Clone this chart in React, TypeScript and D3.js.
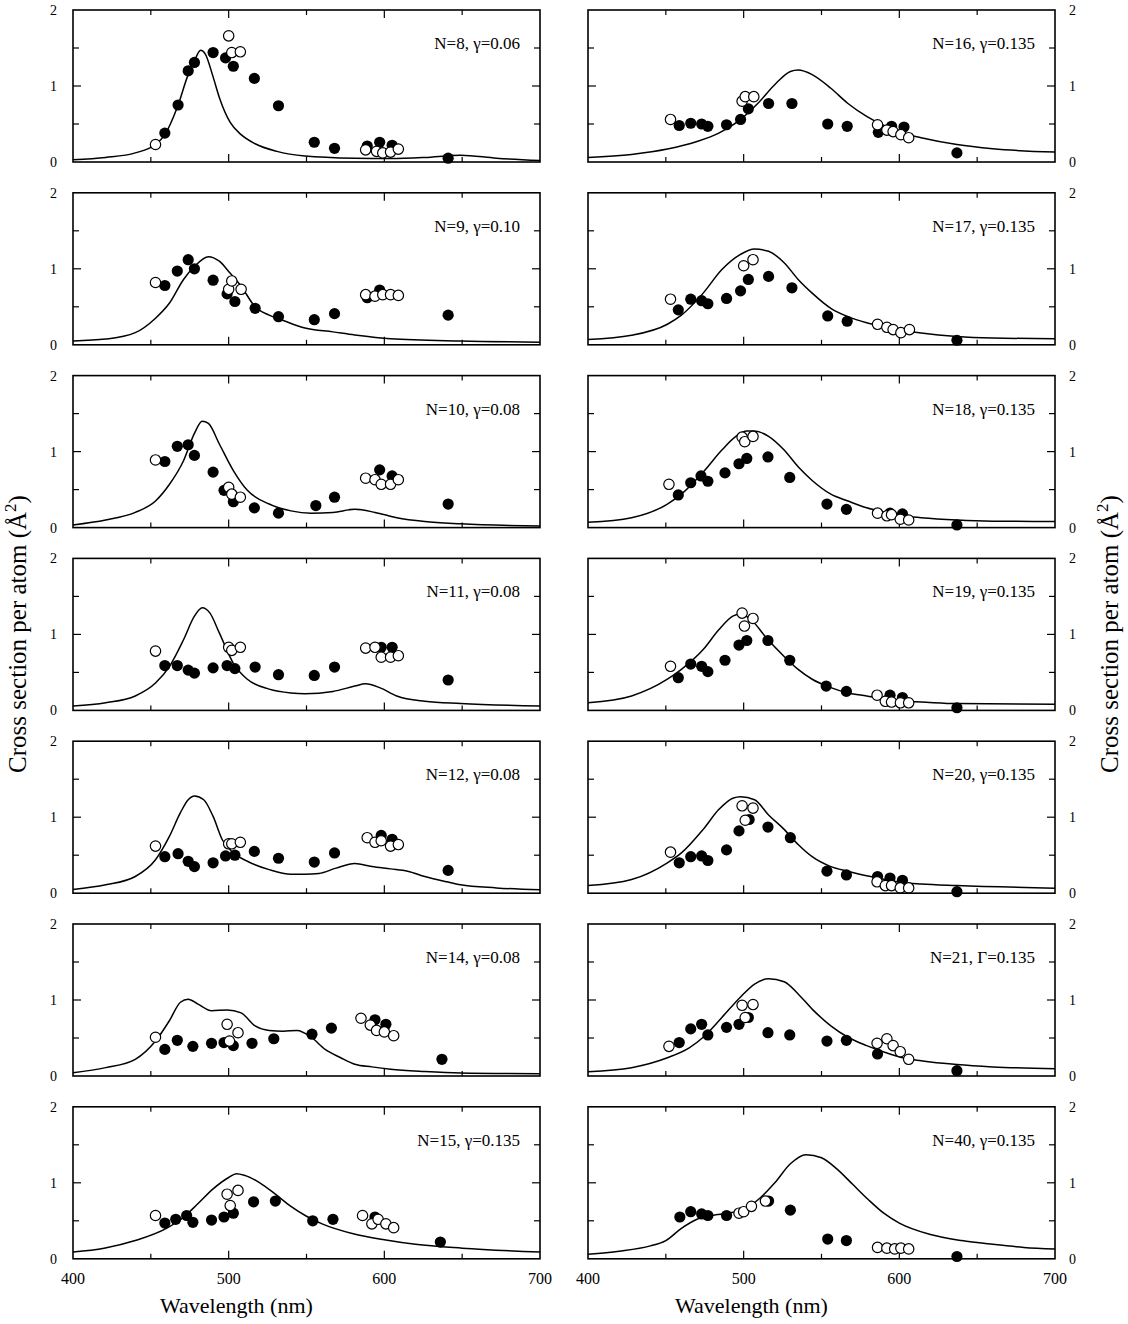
import React from 'react';
import * as d3 from 'd3';

type Pt = [number, number];

// wavelength (nm), cross section per atom (Å^2)
const n8Curve: Pt[] = [[400, 0.03], [421, 0.06], [440, 0.12], [453, 0.23], [459, 0.36], [467, 0.72], [474, 1.15], [478, 1.33], [482, 1.47], [485, 1.42], [490, 1.12], [494, 0.85], [501, 0.52], [508, 0.36], [517, 0.24], [531, 0.14], [549, 0.08], [581, 0.05], [604, 0.045], [626, 0.06], [649, 0.09], [672, 0.05], [700, 0.02]];
const n8Filled: Pt[] = [[459, 0.38], [467.5, 0.75], [474, 1.2], [478, 1.31], [490, 1.44], [498, 1.37], [503, 1.26], [516.5, 1.1], [532, 0.74], [555, 0.26], [568, 0.18], [589, 0.21], [597, 0.26], [605, 0.22], [641, 0.05]];
const n8Open: Pt[] = [[453, 0.23], [500, 1.66], [502, 1.44], [507.5, 1.45], [588, 0.16], [595, 0.14], [599, 0.12], [604, 0.13], [609, 0.17]];

const n9Curve: Pt[] = [[400, 0.05], [421, 0.075], [440, 0.16], [453, 0.35], [462, 0.55], [471, 0.86], [478, 1.03], [487, 1.16], [494, 1.1], [501, 0.94], [508, 0.77], [517, 0.5], [526, 0.39], [535, 0.32], [549, 0.22], [567, 0.17], [581, 0.13], [604, 0.08], [649, 0.05], [700, 0.035]];
const n9Filled: Pt[] = [[459, 0.78], [467, 0.97], [474, 1.12], [478, 1.0], [490, 0.85], [499, 0.67], [504, 0.57], [517, 0.48], [532, 0.37], [555, 0.33], [568, 0.41], [589, 0.62], [597, 0.72], [641, 0.39]];
const n9Open: Pt[] = [[453, 0.82], [500, 0.73], [502, 0.84], [508, 0.73], [588, 0.66], [594, 0.64], [599, 0.66], [604, 0.66], [609, 0.65]];

const n10Curve: Pt[] = [[400, 0.035], [421, 0.1], [440, 0.2], [453, 0.35], [462, 0.57], [471, 0.88], [478, 1.24], [483, 1.4], [487, 1.37], [494, 1.1], [503, 0.75], [512, 0.49], [526, 0.31], [540, 0.22], [553, 0.19], [567, 0.2], [581, 0.24], [594, 0.2], [608, 0.13], [626, 0.08], [649, 0.05], [700, 0.02]];
const n10Filled: Pt[] = [[459, 0.87], [467, 1.07], [474, 1.09], [478, 0.95], [490, 0.73], [497, 0.49], [503, 0.34], [516.5, 0.26], [532, 0.19], [556, 0.29], [568, 0.4], [597, 0.76], [605, 0.68], [641, 0.31]];
const n10Open: Pt[] = [[453, 0.89], [500, 0.53], [502, 0.44], [507.5, 0.4], [588, 0.65], [594, 0.63], [598, 0.57], [604, 0.57], [609, 0.63]];

const n11Curve: Pt[] = [[400, 0.057], [421, 0.1], [440, 0.19], [453, 0.36], [462, 0.58], [471, 0.93], [478, 1.24], [483, 1.35], [488, 1.28], [494, 1.02], [503, 0.62], [512, 0.41], [526, 0.28], [540, 0.23], [549, 0.22], [567, 0.25], [581, 0.32], [588, 0.35], [597, 0.3], [608, 0.19], [626, 0.12], [649, 0.09], [700, 0.057]];
const n11Filled: Pt[] = [[459, 0.59], [467, 0.59], [474, 0.53], [478, 0.49], [490, 0.56], [499, 0.59], [504, 0.55], [517, 0.57], [532, 0.47], [555, 0.46], [568, 0.57], [598, 0.83], [605, 0.83], [641, 0.4]];
const n11Open: Pt[] = [[453, 0.78], [500, 0.83], [502, 0.79], [507.5, 0.83], [588, 0.82], [594, 0.83], [598, 0.7], [604, 0.7], [609, 0.72]];

const n12Curve: Pt[] = [[400, 0.05], [421, 0.11], [440, 0.22], [453, 0.44], [462, 0.75], [469, 1.06], [474, 1.23], [478, 1.28], [484, 1.23], [490, 1.01], [496, 0.7], [503, 0.53], [512, 0.42], [526, 0.31], [540, 0.25], [549, 0.25], [558, 0.26], [569, 0.33], [581, 0.39], [592, 0.35], [604, 0.32], [615, 0.29], [626, 0.22], [640, 0.15], [649, 0.11], [672, 0.07], [700, 0.044]];
const n12Filled: Pt[] = [[459, 0.48], [467.5, 0.52], [474, 0.42], [478, 0.35], [490, 0.4], [498, 0.49], [504, 0.5], [516.5, 0.55], [532, 0.46], [555, 0.41], [568, 0.53], [598, 0.76], [605, 0.71], [641, 0.3]];
const n12Open: Pt[] = [[453, 0.62], [500, 0.65], [502, 0.65], [507.5, 0.67], [589, 0.73], [594, 0.67], [598, 0.69], [604, 0.62], [609, 0.64]];

const n14Curve: Pt[] = [[400, 0.044], [421, 0.11], [440, 0.22], [453, 0.46], [462, 0.73], [469, 0.97], [474, 1.01], [480, 0.95], [489, 0.86], [499, 0.87], [508, 0.83], [517, 0.66], [526, 0.6], [535, 0.59], [544, 0.6], [553, 0.51], [562, 0.35], [572, 0.24], [581, 0.155], [592, 0.12], [604, 0.09], [626, 0.06], [649, 0.04], [700, 0.03]];
const n14Filled: Pt[] = [[459, 0.35], [467, 0.47], [477, 0.39], [489, 0.43], [497, 0.44], [503, 0.4], [515, 0.43], [529, 0.49], [553.5, 0.55], [566, 0.63], [594, 0.74], [601, 0.68], [637, 0.22]];
const n14Open: Pt[] = [[453, 0.51], [499, 0.68], [500.5, 0.46], [506, 0.57], [585, 0.76], [591, 0.67], [595, 0.6], [600, 0.58], [606, 0.53]];

const n15Curve: Pt[] = [[400, 0.09], [420, 0.14], [440, 0.24], [460, 0.4], [470, 0.53], [480, 0.72], [490, 0.92], [500, 1.07], [505, 1.12], [510, 1.1], [520, 1.0], [530, 0.85], [540, 0.69], [550, 0.56], [560, 0.46], [580, 0.33], [600, 0.25], [620, 0.19], [650, 0.14], [700, 0.09]];
const n15Filled: Pt[] = [[459, 0.47], [466, 0.52], [473, 0.57], [477, 0.48], [489, 0.51], [497, 0.55], [503, 0.6], [516, 0.75], [530, 0.76], [554, 0.5], [567, 0.52], [594, 0.55], [636, 0.22]];
const n15Open: Pt[] = [[453, 0.57], [499, 0.85], [501, 0.7], [506, 0.9], [586, 0.57], [592, 0.46], [596, 0.52], [601, 0.46], [606, 0.41]];

const n16Curve: Pt[] = [[400, 0.06], [428, 0.1], [451, 0.17], [470, 0.27], [484, 0.38], [498, 0.56], [509, 0.77], [521, 1.04], [530, 1.19], [535, 1.21], [544, 1.15], [556, 0.97], [567, 0.77], [579, 0.6], [591, 0.47], [602, 0.38], [614, 0.32], [637, 0.23], [660, 0.175], [700, 0.13]];
const n16Filled: Pt[] = [[458.6, 0.48], [466, 0.51], [473, 0.5], [477, 0.47], [489, 0.49], [498, 0.56], [503, 0.7], [516, 0.77], [531, 0.77], [554, 0.5], [566.5, 0.47], [586.5, 0.39], [595, 0.47], [603, 0.46], [637, 0.12]];
const n16Open: Pt[] = [[453, 0.56], [499, 0.8], [501, 0.86], [506.5, 0.86], [586, 0.49], [592, 0.42], [596, 0.4], [601, 0.36], [606, 0.32]];

const n17Curve: Pt[] = [[400, 0.07], [428, 0.125], [451, 0.27], [460, 0.39], [474, 0.68], [486, 0.99], [498, 1.19], [507, 1.26], [516, 1.23], [526, 1.08], [535, 0.86], [544, 0.68], [556, 0.48], [567, 0.37], [579, 0.29], [591, 0.235], [602, 0.19], [614, 0.155], [637, 0.11], [660, 0.09], [700, 0.08]];
const n17Filled: Pt[] = [[458, 0.46], [466, 0.6], [473, 0.58], [477, 0.54], [489, 0.61], [498, 0.71], [503, 0.86], [516, 0.9], [531, 0.75], [554, 0.38], [566.5, 0.31], [637, 0.06]];
const n17Open: Pt[] = [[453, 0.6], [500, 1.04], [506, 1.12], [586, 0.27], [592, 0.23], [596, 0.2], [601, 0.16], [606.5, 0.2]];

const n18Curve: Pt[] = [[400, 0.07], [428, 0.13], [451, 0.31], [460, 0.44], [474, 0.73], [486, 1.02], [495, 1.2], [502, 1.27], [507, 1.27], [516, 1.2], [526, 1.02], [535, 0.8], [544, 0.62], [556, 0.44], [567, 0.35], [579, 0.26], [591, 0.2], [602, 0.155], [614, 0.13], [637, 0.1], [660, 0.085], [700, 0.08]];
const n18Filled: Pt[] = [[458, 0.43], [466, 0.59], [472.6, 0.68], [477, 0.61], [488, 0.72], [497, 0.84], [502, 0.91], [515.6, 0.93], [529.6, 0.66], [553.5, 0.31], [566, 0.24], [594, 0.19], [602, 0.18], [637, 0.035]];
const n18Open: Pt[] = [[452, 0.57], [499, 1.19], [500.7, 1.13], [506, 1.2], [586, 0.19], [592, 0.155], [595, 0.17], [600.6, 0.11], [606, 0.1]];

const n19Curve: Pt[] = [[400, 0.1], [428, 0.19], [451, 0.41], [460, 0.54], [474, 0.8], [484, 1.06], [493, 1.24], [498, 1.27], [505, 1.19], [514, 0.97], [526, 0.71], [535, 0.54], [544, 0.41], [556, 0.3], [567, 0.23], [579, 0.19], [591, 0.15], [602, 0.12], [614, 0.11], [637, 0.09], [700, 0.08]];
const n19Filled: Pt[] = [[458, 0.43], [466, 0.61], [473, 0.58], [477, 0.51], [488, 0.66], [497, 0.86], [502, 0.92], [515.6, 0.92], [529.6, 0.66], [553, 0.32], [566, 0.25], [594, 0.2], [602, 0.17], [637, 0.035]];
const n19Open: Pt[] = [[453, 0.58], [499, 1.28], [500.5, 1.11], [506, 1.21], [585.7, 0.2], [591, 0.12], [595, 0.11], [600.7, 0.1], [606, 0.1]];

const n20Curve: Pt[] = [[400, 0.1], [428, 0.18], [451, 0.4], [460, 0.53], [474, 0.84], [484, 1.1], [493, 1.25], [498, 1.27], [507, 1.23], [516, 1.03], [526, 0.84], [535, 0.64], [544, 0.48], [556, 0.35], [567, 0.29], [579, 0.23], [591, 0.18], [602, 0.14], [614, 0.12], [637, 0.1], [700, 0.066]];
const n20Filled: Pt[] = [[458.6, 0.4], [466, 0.48], [473, 0.49], [477, 0.43], [489, 0.57], [497, 0.82], [503.5, 0.97], [515.6, 0.87], [530, 0.73], [553.5, 0.29], [566, 0.24], [586, 0.22], [594, 0.2], [602, 0.17], [637, 0.02]];
const n20Open: Pt[] = [[453, 0.54], [499, 1.15], [501, 0.96], [506, 1.12], [585.7, 0.15], [591, 0.1], [595, 0.1], [600.6, 0.07], [606, 0.07]];

const n21Curve: Pt[] = [[400, 0.057], [428, 0.11], [451, 0.24], [465, 0.37], [474, 0.51], [486, 0.77], [498, 1.04], [507, 1.21], [516, 1.28], [526, 1.24], [535, 1.08], [544, 0.88], [556, 0.66], [567, 0.51], [579, 0.4], [591, 0.31], [602, 0.24], [614, 0.2], [637, 0.15], [660, 0.12], [700, 0.097]];
const n21Filled: Pt[] = [[458.6, 0.44], [466, 0.62], [473, 0.68], [477, 0.54], [489, 0.64], [497, 0.68], [503, 0.77], [515.6, 0.57], [529.6, 0.54], [553.5, 0.46], [566, 0.47], [586, 0.29], [637, 0.07]];
const n21Open: Pt[] = [[452, 0.39], [499, 0.93], [501, 0.77], [506, 0.94], [585.7, 0.43], [592, 0.49], [596, 0.4], [600.6, 0.32], [606, 0.22]];

const n40Curve: Pt[] = [[400, 0.06], [420, 0.1], [440, 0.17], [450, 0.24], [460, 0.4], [470, 0.52], [480, 0.57], [490, 0.6], [500, 0.65], [510, 0.79], [520, 1.0], [530, 1.25], [540, 1.37], [550, 1.33], [560, 1.18], [570, 0.98], [580, 0.78], [590, 0.6], [600, 0.47], [620, 0.32], [640, 0.24], [660, 0.19], [680, 0.15], [700, 0.13]];
const n40Filled: Pt[] = [[459, 0.55], [466, 0.62], [473, 0.59], [477, 0.57], [489, 0.57], [516, 0.76], [530, 0.64], [554, 0.26], [566, 0.24], [637, 0.03]];
const n40Open: Pt[] = [[497, 0.6], [500, 0.62], [505, 0.69], [514, 0.76], [586, 0.15], [592, 0.14], [597, 0.13], [601, 0.14], [606, 0.13]];

const xTickLabels = [400, 500, 600, 700];
const yTickLabels = [0, 1, 2];
const xMajor = [500, 600];
const xMinor = [450, 550, 650];
const yMajor = [1];
const yMinor = [0.5, 1.5];

const panels = [
  { label: 'N=8, γ=0.06', col: 0, row: 0, curve: n8Curve, filled: n8Filled, open: n8Open },
  { label: 'N=9, γ=0.10', col: 0, row: 1, curve: n9Curve, filled: n9Filled, open: n9Open },
  { label: 'N=10, γ=0.08', col: 0, row: 2, curve: n10Curve, filled: n10Filled, open: n10Open },
  { label: 'N=11, γ=0.08', col: 0, row: 3, curve: n11Curve, filled: n11Filled, open: n11Open },
  { label: 'N=12, γ=0.08', col: 0, row: 4, curve: n12Curve, filled: n12Filled, open: n12Open },
  { label: 'N=14, γ=0.08', col: 0, row: 5, curve: n14Curve, filled: n14Filled, open: n14Open },
  { label: 'N=15, γ=0.135', col: 0, row: 6, curve: n15Curve, filled: n15Filled, open: n15Open },
  { label: 'N=16, γ=0.135', col: 1, row: 0, curve: n16Curve, filled: n16Filled, open: n16Open },
  { label: 'N=17, γ=0.135', col: 1, row: 1, curve: n17Curve, filled: n17Filled, open: n17Open },
  { label: 'N=18, γ=0.135', col: 1, row: 2, curve: n18Curve, filled: n18Filled, open: n18Open },
  { label: 'N=19, γ=0.135', col: 1, row: 3, curve: n19Curve, filled: n19Filled, open: n19Open },
  { label: 'N=20, γ=0.135', col: 1, row: 4, curve: n20Curve, filled: n20Filled, open: n20Open },
  { label: 'N=21, Γ=0.135', col: 1, row: 5, curve: n21Curve, filled: n21Filled, open: n21Open },
  { label: 'N=40, γ=0.135', col: 1, row: 6, curve: n40Curve, filled: n40Filled, open: n40Open },
];

const W = 1128, H = 1324;
const colLeft = [73, 588];
const frameW = 467, frameH = 152;
const rowTop = (r: number) => 10 + r * 182.8;
const FONT = '"Liberation Serif", "Times New Roman", serif';

const Panel = ({ p }: { p: typeof panels[number] }) => {
  const x0 = colLeft[p.col], y0 = rowTop(p.row);
  const x = d3.scaleLinear().domain([400, 700]).range([x0, x0 + frameW]);
  const y = d3.scaleLinear().domain([0, 2]).range([y0 + frameH, y0]);
  const line = d3.line<Pt>().x(d => x(d[0])).y(d => y(d[1])).curve(d3.curveMonotoneX);
  const bottom = y(0), top = y(2), left = x(400), right = x(700);

  return (
    <g>
      {/* ticks, inward on all four sides */}
      {xMajor.concat(xMinor).map(v => {
        const len = xMajor.includes(v) ? 8 : 5;
        return (
          <g key={'xt' + v}>
            <line x1={x(v)} x2={x(v)} y1={top} y2={top + len} stroke="#000" strokeWidth={1.2} />
            <line x1={x(v)} x2={x(v)} y1={bottom} y2={bottom - len} stroke="#000" strokeWidth={1.2} />
          </g>
        );
      })}
      {yMajor.concat(yMinor).map(v => {
        const len = yMajor.includes(v) ? 8 : 6;
        return (
          <g key={'yt' + v}>
            <line x1={left} x2={left + len} y1={y(v)} y2={y(v)} stroke="#000" strokeWidth={1.2} />
            <line x1={right} x2={right - len} y1={y(v)} y2={y(v)} stroke="#000" strokeWidth={1.2} />
          </g>
        );
      })}
      <path d={line(p.curve) || ''} fill="none" stroke="#000" strokeWidth={1.5} />
      {p.filled.map((d, i) => (
        <circle key={'f' + i} cx={x(d[0])} cy={y(d[1])} r={5.6} fill="#000" />
      ))}
      {p.open.map((d, i) => (
        <circle key={'o' + i} cx={x(d[0])} cy={y(d[1])} r={5.2} fill="#fff" stroke="#000" strokeWidth={1.2} />
      ))}
      <rect x={left} y={top} width={right - left} height={bottom - top} fill="none" stroke="#000" strokeWidth={1.6} />
      <text x={right - 20} y={top + 39} textAnchor="end" fontSize={17} fontFamily={FONT}>{p.label}</text>
      {yTickLabels.map(v => (
        p.col === 0
          ? <text key={'yl' + v} x={left - 16} y={y(v) + 5} textAnchor="end" fontSize={14} fontFamily={FONT}>{v}</text>
          : <text key={'yl' + v} x={right + 14} y={y(v) + 5} textAnchor="start" fontSize={14} fontFamily={FONT}>{v}</text>
      ))}
      {p.row === 6 && xTickLabels.map(v => (
        <text key={'xl' + v} x={x(v)} y={bottom + 25} textAnchor="middle" fontSize={16} fontFamily={FONT}>{v}</text>
      ))}
      {p.row === 6 && (
        <text x={x(505)} y={bottom + 54} textAnchor="middle" fontSize={22} fontFamily={FONT}>Wavelength (nm)</text>
      )}
    </g>
  );
};

const YLabel = ({ cx }: { cx: number }) => (
  <text transform={`translate(${cx},634) rotate(-90)`} textAnchor="middle" fontSize={25} fontFamily={FONT}>
    Cross section per atom (Å<tspan dy={-10} fontSize={17}>2</tspan><tspan dy={10}>)</tspan>
  </text>
);

export default function App() {
  return (
    <svg width={W} height={H} style={{ position: 'absolute', left: 0, top: 0, background: '#fff' }}>
      <rect x={0} y={0} width={W} height={H} fill="#fff" />
      {panels.map(p => <Panel key={p.label} p={p} />)}
      <YLabel cx={26} />
      <YLabel cx={1118} />
    </svg>
  );
}
